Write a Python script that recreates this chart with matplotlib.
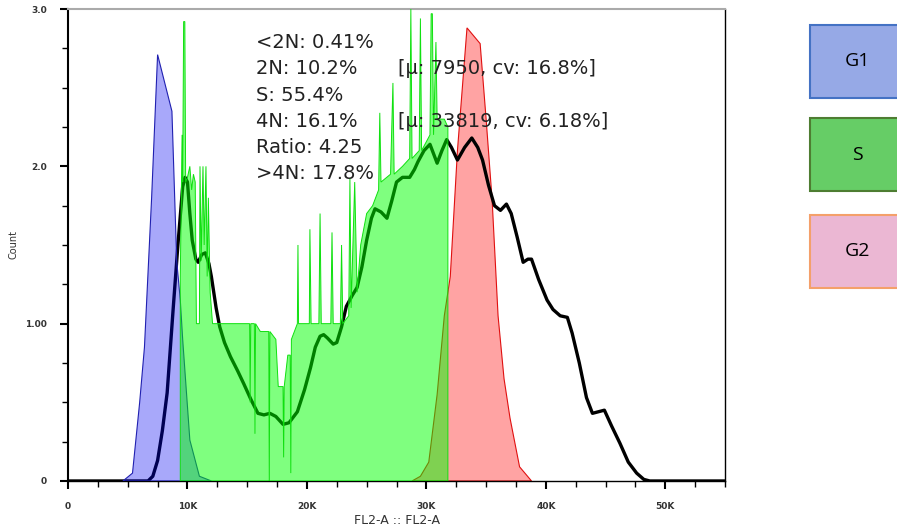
import matplotlib.pyplot as plt
from matplotlib.patches import Rectangle
from matplotlib.ticker import MultipleLocator, FixedLocator

# FL2-A values in thousands, counts in the plot's own units
g1_x = [4.6, 5.4, 6.0, 6.4, 7.0, 7.5, 8.7, 9.1, 9.4, 9.6, 10.2, 11.0, 12.0]
g1_y = [0.0, 0.05, 0.5, 0.85, 1.8, 2.71, 2.35, 1.4, 1.15, 0.9, 0.26, 0.03, 0.0]

g2_x = [28.8, 29.5, 30.2, 30.9, 31.5, 32.0, 32.6, 33.4, 34.5, 35.0, 35.5, 36.0, 36.5, 37.0, 37.8, 38.8]
g2_y = [0.0, 0.03, 0.12, 0.55, 1.05, 1.3, 2.1, 2.88, 2.78, 2.3, 1.79, 1.05, 0.65, 0.4, 0.09, 0.0]

s_x = [9.40, 9.40, 9.55, 9.60, 9.68, 9.78, 9.85, 10.00, 10.20, 10.35, 10.50, 10.65,
       10.75, 11.00, 11.05, 11.15, 11.30, 11.40, 11.55, 11.65, 11.75, 11.90, 12.10,
       15.20, 15.25, 15.30, 15.60, 15.65, 15.70, 16.10, 16.80, 16.85, 16.90, 17.40,
       17.60, 18.00, 18.05, 18.10, 18.40, 18.60, 18.65, 18.70, 19.20, 19.25, 19.30,
       20.20, 20.25, 20.35, 21.00, 21.10, 21.20, 22.00, 22.10, 22.20, 22.80, 22.90,
       23.00, 23.50, 23.60, 23.70, 24.00, 24.20, 24.50, 25.00, 25.50, 26.00, 26.10,
       26.20, 27.00, 27.20, 27.30, 28.00, 28.60, 28.70, 28.80, 29.40, 29.50, 29.60,
       30.30, 30.40, 30.50, 30.60, 30.80, 30.90, 31.50, 31.80, 31.80]
s_y = [0.00, 1.30, 2.20, 1.90, 2.92, 2.92, 1.90, 1.93, 2.00, 1.85, 1.95, 1.90,
       1.00, 1.00, 2.00, 1.40, 2.00, 1.50, 2.00, 1.30, 1.80, 1.20, 1.00,
       1.00, 0.50, 1.00, 1.00, 0.30, 1.00, 0.95, 0.95, 0.00, 0.95, 0.90,
       0.60, 0.60, 0.15, 0.60, 0.80, 0.80, 0.05, 0.90, 1.00, 1.50, 1.00,
       1.00, 1.60, 1.00, 1.00, 1.70, 1.00, 1.00, 1.58, 1.00, 1.00, 1.50,
       1.00, 1.05, 1.92, 1.10, 1.90, 1.20, 1.50, 1.70, 1.75, 1.85, 2.34,
       1.90, 1.95, 2.53, 1.95, 2.00, 2.05, 3.00, 2.05, 2.10, 2.94, 2.10,
       2.20, 2.97, 2.97, 2.20, 2.79, 2.30, 2.30, 2.25, 0.00]

fit_x = [0, 6.7, 7.1, 7.5, 7.9, 8.3, 8.8, 9.2, 9.6, 9.8, 10.0, 10.2, 10.4, 10.7, 10.9,
         11.2, 11.5, 11.8, 12.0, 12.4, 12.7, 13.1, 13.6, 14.2, 14.7, 15.3, 15.9, 16.4,
         16.9, 17.4, 18.0, 18.5, 19.2, 19.8, 20.3, 20.7, 21.1, 21.4, 21.7, 22.2, 22.5,
         22.9, 23.3, 23.8, 24.2, 24.6, 25.0, 25.4, 25.7, 26.2, 26.7, 27.1, 27.5, 28.0,
         28.6, 29.0, 29.3, 29.8, 30.3, 30.6, 30.9, 31.3, 31.7, 32.1, 32.6, 33.2, 33.8,
         34.3, 34.7, 35.2, 35.7, 36.2, 36.7, 37.1, 37.6, 38.1, 38.5, 38.8, 39.4, 40.1,
         40.6, 41.2, 41.8, 42.2, 42.8, 43.4, 43.9, 44.4, 44.9, 45.5, 46.2, 46.9, 47.6,
         48.2, 48.7, 55]
fit_y = [0, 0, 0.03, 0.13, 0.32, 0.56, 1.09, 1.5, 1.87, 1.93, 1.9, 1.7, 1.53, 1.41, 1.39,
         1.44, 1.45, 1.38, 1.3, 1.1, 0.98, 0.88, 0.79, 0.7, 0.62, 0.52, 0.43, 0.42,
         0.43, 0.41, 0.36, 0.37, 0.44, 0.58, 0.72, 0.85, 0.92, 0.93, 0.91, 0.87, 0.88,
         0.98, 1.11, 1.18, 1.23, 1.36, 1.53, 1.67, 1.73, 1.71, 1.67, 1.78, 1.9, 1.93,
         1.93, 1.98, 2.03, 2.1, 2.14, 2.08, 2.02, 2.1, 2.17, 2.12, 2.04, 2.12, 2.18,
         2.12, 2.04, 1.88, 1.75, 1.72, 1.76, 1.7, 1.55, 1.39, 1.41, 1.41, 1.28, 1.15,
         1.09, 1.05, 1.04, 0.94, 0.75, 0.53, 0.43, 0.44, 0.45, 0.35, 0.24, 0.12, 0.05,
         0.01, 0, 0]

stats = ["<2N: 0.41%", "2N: 10.2%", "S: 55.4%", "4N: 16.1%", "Ratio: 4.25", ">4N: 17.8%"]
stats_extra = {1: "[\u00b5: 7950, cv: 16.8%]", 3: "[\u00b5: 33819, cv: 6.18%]"}

phases = ["G1", "S", "G2"]
phase_fill = ["#96a9e6", "#66cd66", "#ebb7d3"]
phase_edge = ["#4472c4", "#4e7d32", "#f4a06a"]

fig = plt.figure(figsize=(8.97, 5.30), dpi=100)
ax = fig.add_axes([0.0758, 0.0925, 0.7325, 0.8905])

# red under the fit line, blue and green over it (the line shows through tinted)
ax.fill(g2_x, g2_y, facecolor="#ffa3a3", edgecolor="#e01010", lw=0.8, zorder=2)
ax.plot(fit_x, fit_y, color="black", lw=2.4, zorder=3,
        solid_capstyle="round", solid_joinstyle="round")
ax.fill(g1_x, g1_y, facecolor=(0.0, 0.0, 0.95, 0.34), edgecolor="#2020b0", lw=0.8, zorder=4)
ax.fill(s_x, s_y, facecolor=(0.0, 1.0, 0.0, 0.5), edgecolor="#10e010", lw=0.7, zorder=5)

ax.set_xlim(0, 55)
ax.set_ylim(0, 3.0)
ax.xaxis.set_major_locator(FixedLocator([0, 10, 20, 30, 40, 50]))
ax.set_xticklabels(["0", "10K", "20K", "30K", "40K", "50K"])
ax.xaxis.set_minor_locator(MultipleLocator(2.5))
ax.yaxis.set_major_locator(FixedLocator([0, 1, 2, 3]))
ax.set_yticklabels(["0", "1.00", "2.0", "3.0"])
ax.yaxis.set_minor_locator(MultipleLocator(0.25))
ax.tick_params(which="major", direction="out", length=6, width=1.5, labelsize=6.5,
               labelcolor="#333333", pad=9)
ax.tick_params(which="minor", direction="out", length=4, width=1.0)
for lab in ax.get_xticklabels() + ax.get_yticklabels():
    lab.set_fontweight("bold")

for side in ["left", "bottom", "right"]:
    ax.spines[side].set_color("black")
    ax.spines[side].set_linewidth(1.0)
ax.spines["left"].set_linewidth(1.5)
ax.spines["top"].set_color("#aaaaaa")
ax.spines["top"].set_linewidth(1.5)

ax.set_xlabel("FL2-A :: FL2-A", fontsize=9, color="#333333", labelpad=2)
ax.set_ylabel("Count", fontsize=7, color="#333333")
ax.yaxis.set_label_coords(-0.076, 0.5)

for i, line in enumerate(stats):
    y = 2.785 - i * 0.166
    ax.text(15.7, y, line, fontsize=14, family="DejaVu Sans", color="#222222",
            va="center", zorder=6)
    if i in stats_extra:
        ax.text(27.6, y, stats_extra[i], fontsize=14, family="DejaVu Sans",
                color="#222222", va="center", zorder=6)

box_tops = [25, 118, 215]
for name, fc, ec, top in zip(phases, phase_fill, phase_edge, box_tops):
    y0 = 1 - (top + 73) / 530
    fig.patches.append(Rectangle((810 / 897, y0), 0.12, 73 / 530, transform=fig.transFigure,
                                 facecolor=fc, edgecolor=ec, lw=1.5))
    fig.text(857 / 897, y0 + 36.5 / 530, name, fontsize=14, family="Open Sans",
             ha="center", va="center", color="black")

fig.savefig("out.png", dpi=100)
